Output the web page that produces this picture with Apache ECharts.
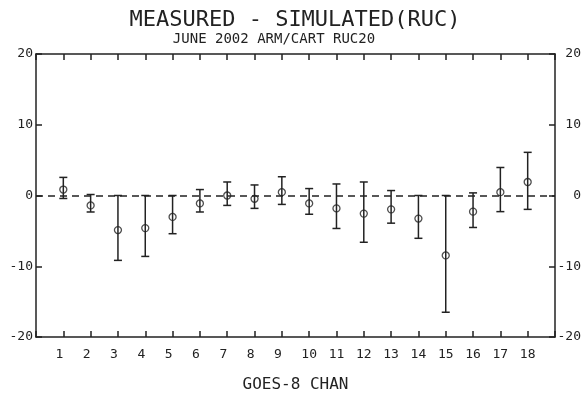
<!DOCTYPE html>
<html>
<head>
<meta charset="utf-8">
<title>MEASURED - SIMULATED(RUC)</title>
<script src="https://cdn.jsdelivr.net/npm/echarts@6/dist/echarts.min.js"></script>
<style>
  html, body { margin: 0; padding: 0; background: #fff; }
  #main { width: 584px; height: 398px; }
</style>
</head>
<body>
<div id="main"></div>
<script>
// GOES-8 channels
var chans = [1, 2, 3, 4, 5, 6, 7, 8, 9, 10, 11, 12, 13, 14, 15, 16, 17, 18];
// mean of measured - simulated
var meanDiff = [0.84, -1.40, -4.89, -4.61, -3.03, -1.12, 0.00, -0.47, 0.47,
                -1.12, -1.82, -2.56, -1.96, -3.26, -8.47, -2.28, 0.47, 1.91];
// lower and upper ends of the error bars
var lowerEnd = [-0.42, -2.33, -9.17, -8.61, -5.40, -2.33, -1.40, -1.82, -1.26,
                -2.65, -4.66, -6.61, -3.91, -6.05, -16.5, -4.52, -2.28, -1.96];
var upperEnd = [2.56, 0.14, 0.00, 0.00, 0.00, 0.84, 1.91, 1.49, 2.65,
                0.98, 1.63, 1.91, 0.70, 0.00, 0.00, 0.37, 3.96, 6.10];
// y tick values
var yTicks = [-20, -10, 0, 10, 20];

var mono = 'DejaVu Sans Mono';
var ink = '#222';

var chart = echarts.init(document.getElementById('main'), null, { renderer: 'canvas' });

var pointData = chans.map(function (c, i) { return [c, meanDiff[i]]; });
var barData = chans.map(function (c, i) { return [c, lowerEnd[i], upperEnd[i]]; });

// shared x axis settings (bottom + top frame)
function xAxisOf(pos, showLabel) {
    return {
        type: 'value',
        position: pos,
        min: 0,
        max: chans.length + 1,
        interval: 1,
        splitLine: { show: false },
        axisLine: { onZero: false, lineStyle: { color: ink, width: 1.5 } },
        axisTick: { inside: true, length: 6, lineStyle: { color: ink, width: 1.5 } },
        axisLabel: {
            show: showLabel,
            margin: 11,
            fontFamily: mono,
            fontSize: 13,
            color: ink,
            // single digits get a trailing blank so they sit left like the original
            formatter: function (v) {
                if (chans.indexOf(v) < 0) return '';
                return v < 10 ? v + ' ' : '' + v;
            }
        }
    };
}

// shared y axis settings (left + right frame)
function yAxisOf(pos) {
    return {
        type: 'value',
        position: pos,
        min: yTicks[0],
        max: yTicks[yTicks.length - 1],
        interval: 10,
        splitLine: { show: false },
        axisLine: { onZero: false, lineStyle: { color: ink, width: 1.5 } },
        axisTick: { inside: true, length: 6, lineStyle: { color: ink, width: 1.5 } },
        axisLabel: {
            margin: pos === 'left' ? 3 : 26,
            align: 'right',
            fontFamily: mono,
            fontSize: 13,
            color: ink
        }
    };
}

var option = {
    animation: false,
    backgroundColor: '#fff',
    graphic: [
        {
            type: 'text', x: 295, y: 20,
            style: {
                text: 'MEASURED - SIMULATED(RUC)',
                font: '22px "' + mono + '"',
                fill: ink, align: 'center', verticalAlign: 'middle'
            }
        },
        {
            type: 'text', x: 274, y: 39,
            style: {
                text: 'JUNE 2002 ARM/CART RUC20',
                font: '14px "' + mono + '"',
                fill: ink, align: 'center', verticalAlign: 'middle'
            }
        }
    ],
    grid: { left: 36, right: 28, top: 54, bottom: 57 },
    xAxis: [
        Object.assign(xAxisOf('bottom', true), {
            name: 'GOES-8 CHAN',
            nameLocation: 'middle',
            nameGap: 40,
            nameTextStyle: { fontFamily: mono, fontSize: 16, color: ink }
        }),
        xAxisOf('top', false)
    ],
    yAxis: [yAxisOf('left'), yAxisOf('right')],
    series: [
        {
            // error bars
            type: 'custom',
            xAxisIndex: 0,
            yAxisIndex: 0,
            data: barData,
            z: 3,
            renderItem: function (params, api) {
                var x = api.value(0);
                var lo = api.coord([x, api.value(1)]);
                var hi = api.coord([x, api.value(2)]);
                var w = 4;
                var st = { stroke: ink, lineWidth: 1.5 };
                return {
                    type: 'group',
                    children: [
                        { type: 'line', shape: { x1: lo[0], y1: lo[1], x2: hi[0], y2: hi[1] }, style: st },
                        { type: 'line', shape: { x1: lo[0] - w, y1: lo[1], x2: lo[0] + w, y2: lo[1] }, style: st },
                        { type: 'line', shape: { x1: hi[0] - w, y1: hi[1], x2: hi[0] + w, y2: hi[1] }, style: st }
                    ]
                };
            }
        },
        {
            // mean points
            type: 'scatter',
            data: pointData,
            symbol: 'circle',
            symbolSize: 7,
            z: 4,
            itemStyle: { color: 'rgba(0,0,0,0)', borderColor: ink, borderWidth: 1.3 },
            markLine: {
                silent: true,
                symbol: 'none',
                label: { show: false },
                lineStyle: { color: ink, width: 1.5, type: [7, 5] },
                data: [{ yAxis: 0 }]
            }
        }
    ]
};

chart.setOption(option);
</script>
</body>
</html>
